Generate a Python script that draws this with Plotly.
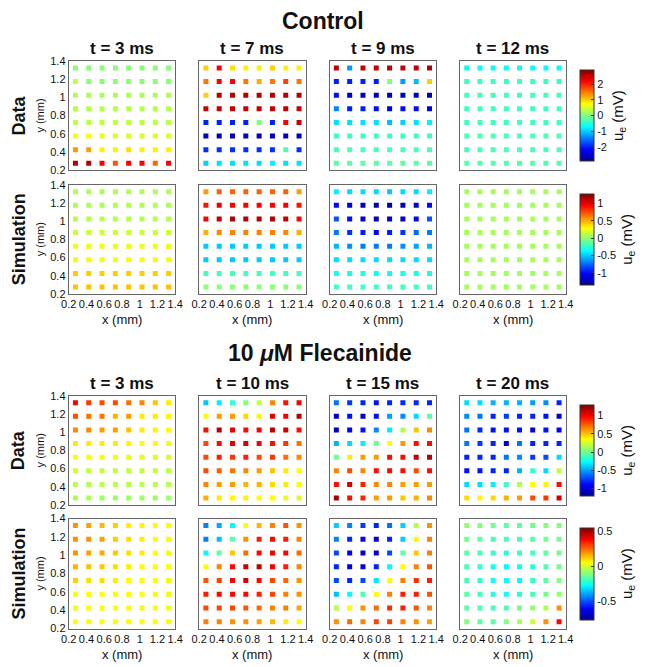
import plotly.graph_objects as go

# electrode grid (mm), 8 x 8, rows listed top -> bottom
electrode_x = [0.275, 0.425, 0.575, 0.725, 0.875, 1.025, 1.175, 1.325]
electrode_y = [1.325, 1.175, 1.025, 0.875, 0.725, 0.575, 0.425, 0.275]

ctrl_times = ["t = 3 ms", "t = 7 ms", "t = 9 ms", "t = 12 ms"]
flec_times = ["t = 3 ms", "t = 10 ms", "t = 15 ms", "t = 20 ms"]
row_names = ["Data", "Simulation", "Data", "Simulation"]

# u_e (mV)
ctrl_data_3 = [
    [0.05] * 8,
    [0.35, 0.05, 0.05, 0.05, 0.05, 0.05, 0.05, 0.05],
    [0.25] * 8,
    [0.3] * 8,
    [0.35] * 8,
    [0.7, 0.7, 0.6, 0.5, 0.5, 0.5, 0.5, 0.5],
    [1.3, 1.3, 0.8, 0.8, 0.9, 0.8, 0.8, 0.8],
    [2.6, 2.6, 2.2, 1.7, 2.2, 2.2, 1.6, 2.2],
]
ctrl_data_7 = [
    [1.0, 2.2, 0.9, 0.8, 0.8, 1.0, 0.8, 0.8],
    [1.5, 2.2, 2.2, 1.5, 1.2, 1.5, 1.8, 1.5],
    [1.0, 2.6, 2.6, 2.6, 2.6, 2.6, 2.6, 2.6],
    [2.5] * 8,
    [-2.0, -2.0, -2.0, -2.0, 0.0, -2.0, 2.2, 2.5],
    [-2.6] * 8,
    [-1.9, -1.9, -1.9, -1.9, -1.9, -1.9, -0.3, -1.9],
    [-1.0, -0.9, -0.9, -0.9, -0.9, -0.8, -0.9, -0.9],
]
ctrl_data_9 = [
    [2.5, -1.3, 2.5, 2.5, 2.6, 2.5, 2.5, 2.6],
    [-2.0, -2.0, -2.0, -2.0, 0.0, -1.3, -1.1, 1.0],
    [-2.1, -2.6, -2.6, -2.6, -2.6, -2.6, -2.6, -2.6],
    [-1.4, -2.0, -2.0, -2.1, -2.4, -2.1, -2.1, -2.4],
    [-0.9, -0.9, -0.9, -0.9, -1.1, -1.0, -0.9, -0.8],
    [-0.4] * 8,
    [-0.3] * 8,
    [-0.2] * 8,
]
ctrl_data_12 = [
    [-0.7] * 8,
    [-0.4] * 8,
    [-0.35] * 8,
    [-0.35] * 8,
    [-0.35] * 8,
    [-0.3] * 8,
    [-0.3] * 8,
    [-0.25] * 8,
]
ctrl_sim_3 = [
    [0.08] * 8,
    [0.08] * 8,
    [0.1] * 8,
    [0.15] * 8,
    [0.25] * 8,
    [0.27] * 8,
    [0.42] * 8,
    [0.45] * 8,
]
ctrl_sim_7 = [
    [0.55, 0.7, 0.7, 0.7, 0.7, 0.7, 0.7, 0.55],
    [0.9, 1.0, 0.95, 0.95, 0.95, 0.95, 0.95, 0.9],
    [0.95, 1.1, 1.15, 1.15, 1.15, 1.15, 1.1, 0.95],
    [0.5, 0.6, 0.62, 0.62, 0.62, 0.62, 0.6, 0.5],
    [-0.5] * 8,
    [-0.5] * 8,
    [-0.2] * 8,
    [0.0] * 8,
]
ctrl_sim_9 = [
    [-0.4, -0.45, -0.45, -0.45, -0.5, -0.45, -0.45, -0.4],
    [-1.0, -1.15, -1.2, -1.25, -1.25, -1.2, -1.15, -1.0],
    [-0.8, -1.0, -1.15, -1.2, -1.2, -1.15, -1.0, -0.8],
    [-0.7, -0.9, -0.95, -1.05, -0.95, -0.9, -0.75, -0.7],
    [-0.55, -0.65, -0.7, -0.7, -0.7, -0.65, -0.6, -0.55],
    [-0.45] * 8,
    [-0.3, -0.3, -0.3, -0.35, -0.35, -0.3, -0.3, -0.3],
    [-0.2] * 8,
]
ctrl_sim_12 = [[0.06] * 8 for _ in range(8)]

flec_data_3 = [
    [1.0, 0.85, 0.8, 0.8, 0.7, 0.65, 0.5, 0.4],
    [0.8, 0.7, 0.7, 0.55, 0.6, 0.4, 0.4, 0.38],
    [0.65, 0.65, 0.6, 0.6, 0.5, 0.4, 0.38, 0.35],
    [0.4, 0.4, 0.4, 0.4, 0.38, 0.35, 0.35, 0.3],
    [0.35, 0.35, 0.35, 0.33, 0.3, 0.3, 0.28, 0.25],
    [0.25, 0.2, 0.2, 0.2, 0.2, 0.2, 0.2, 0.18],
    [0.18] * 8,
    [0.15, 0.15, 0.12, 0.12, 0.12, 0.12, 0.12, 0.12],
]
flec_data_10 = [
    [-0.4, -0.3, -0.15, 0.05, 0.2, 0.65, 0.95, 1.0],
    [0.35, 0.6, 0.6, 0.45, 0.38, 1.05, 1.0, 1.15],
    [0.95, 1.15, 1.05, 0.95, 1.0, 1.15, 1.1, 0.95],
    [0.8, 0.95, 1.05, 1.1, 1.0, 0.95, 0.85, 0.7],
    [0.8, 0.9, 0.85, 0.9, 0.8, 0.85, 0.7, 0.65],
    [0.8, 0.75, 0.7, 0.65, 0.6, 0.5, 0.4, 0.35],
    [0.65, 0.6, 0.6, 0.55, 0.55, 0.45, 0.4, 0.35],
    [0.55, 0.4, 0.38, 0.38, 0.35, 0.35, 0.3, 0.25],
]
flec_data_15 = [
    [-0.6, -0.75, -0.8, -0.85, -0.8, -0.8, -0.8, -0.8],
    [-1.05, -0.85, -1.05, -0.85, -0.5, -0.55, -0.35, -0.05],
    [-1.05, -0.9, -0.85, -0.55, -0.3, 0.15, 0.5, 0.65],
    [-0.45, -0.35, -0.3, 0.0, 0.35, 0.6, 0.95, 0.95],
    [0.0, 0.4, 0.6, 0.6, 0.95, 0.95, 1.15, 1.15],
    [0.65, 0.8, 0.65, 0.95, 0.95, 0.95, 0.8, 0.95],
    [0.95, 1.1, 0.9, 0.65, 0.65, 0.6, 0.6, 0.6],
    [1.2, 0.95, 0.9, 0.6, 0.6, 0.5, 0.55, 0.65],
]
flec_data_20 = [
    [-0.35, -0.35, -0.45, -0.45, -0.45, -0.5, -0.55, -0.8],
    [-0.55, -0.6, -0.8, -0.75, -0.8, -0.8, -0.85, -1.05],
    [-0.6, -0.8, -0.85, -0.85, -0.85, -1.0, -0.85, -0.9],
    [-0.6, -0.75, -0.8, -1.0, -0.6, -0.8, -0.8, -0.8],
    [-0.8, -0.8, -0.8, -0.6, -0.55, -0.75, -0.7, -0.35],
    [-0.85, -0.85, -0.8, -0.8, -0.45, -0.15, -0.35, 0.2],
    [-0.35, -0.35, -0.3, -0.1, 0.15, 0.35, 0.38, 0.95],
    [0.45, 0.38, 0.45, 0.55, 0.6, 0.8, 0.85, 1.1],
]
flec_sim_3 = [
    [0.2, 0.18, 0.15, 0.12, 0.08, 0.07, 0.06, 0.06],
    [0.2, 0.2, 0.18, 0.13, 0.1, 0.08, 0.06, 0.06],
    [0.2, 0.18, 0.17, 0.13, 0.1, 0.08, 0.06, 0.05],
    [0.16, 0.14, 0.13, 0.1, 0.08, 0.06, 0.05, 0.05],
    [0.12, 0.1, 0.1, 0.08, 0.06, 0.05, 0.05, 0.04],
    [0.06, 0.06, 0.06, 0.05, 0.05, 0.05, 0.04, 0.04],
    [0.05, 0.05, 0.05, 0.05, 0.05, 0.04, 0.04, 0.04],
    [0.05] * 8,
]
flec_sim_10 = [
    [-0.43, -0.38, -0.27, 0.06, 0.15, 0.22, 0.28, 0.2],
    [-0.43, -0.35, -0.15, 0.2, 0.35, 0.38, 0.35, 0.22],
    [-0.27, -0.15, 0.13, 0.25, 0.38, 0.4, 0.38, 0.25],
    [0.06, 0.22, 0.38, 0.45, 0.47, 0.4, 0.35, 0.22],
    [0.28, 0.3, 0.4, 0.45, 0.38, 0.3, 0.25, 0.2],
    [0.35, 0.38, 0.38, 0.38, 0.35, 0.3, 0.22, 0.2],
    [0.3, 0.3, 0.3, 0.28, 0.25, 0.22, 0.22, 0.18],
    [0.22, 0.22, 0.2, 0.2, 0.18, 0.15, 0.08, 0.06],
]
flec_sim_15 = [
    [-0.33, -0.43, -0.52, -0.55, -0.45, -0.33, -0.04, 0.2],
    [-0.43, -0.55, -0.6, -0.65, -0.55, -0.33, 0.06, 0.22],
    [-0.5, -0.6, -0.68, -0.65, -0.5, -0.15, 0.13, 0.22],
    [-0.55, -0.65, -0.65, -0.55, -0.27, 0.06, 0.22, 0.28],
    [-0.5, -0.55, -0.5, -0.3, 0.06, 0.22, 0.33, 0.35],
    [-0.35, -0.27, -0.17, 0.06, 0.22, 0.35, 0.35, 0.28],
    [-0.04, 0.06, 0.2, 0.25, 0.33, 0.35, 0.28, 0.22],
    [0.2, 0.25, 0.22, 0.3, 0.3, 0.22, 0.2, 0.18],
]
flec_sim_20 = [
    [-0.08, -0.1, -0.12, -0.15, -0.15, -0.12, -0.1, -0.1],
    [-0.12, -0.15, -0.17, -0.18, -0.18, -0.15, -0.12, -0.12],
    [-0.15, -0.18, -0.2, -0.22, -0.2, -0.18, -0.15, -0.12],
    [-0.17, -0.2, -0.25, -0.27, -0.25, -0.22, -0.17, -0.12],
    [-0.17, -0.2, -0.25, -0.27, -0.27, -0.2, -0.15, -0.1],
    [-0.15, -0.18, -0.22, -0.25, -0.22, -0.18, -0.12, -0.08],
    [-0.15, -0.17, -0.18, -0.17, -0.12, -0.08, -0.05, 0.2],
    [-0.1, -0.15, -0.15, -0.1, -0.05, 0.0, 0.2, 0.38],
]

# colour limits and colorbar ticks per row
row_clim = [(-2.9, 2.9), (-1.35, 1.28), (-1.2, 1.29), (-0.76, 0.55)]
row_ticks = [[-2, -1, 0, 1, 2], [-1, -0.5, 0, 0.5, 1], [-1, -0.5, 0, 0.5, 1], [-0.5, 0, 0.5]]
row_ticktext = [["-2", "-1", "0", "1", "2"], ["-1", "-0.5", "0", "0.5", "1"],
                ["-1", "-0.5", "0", "0.5", "1"], ["-0.5", "0", "0.5"]]

axis_ticks = [0.2, 0.4, 0.6, 0.8, 1.0, 1.2, 1.4]
axis_ticktext = ["0.2", "0.4", "0.6", "0.8", "1", "1.2", "1.4"]

rows = [
    [ctrl_data_3, ctrl_data_7, ctrl_data_9, ctrl_data_12],
    [ctrl_sim_3, ctrl_sim_7, ctrl_sim_9, ctrl_sim_12],
    [flec_data_3, flec_data_10, flec_data_15, flec_data_20],
    [flec_sim_3, flec_sim_10, flec_sim_15, flec_sim_20],
]

JET = [
    [0.0, "rgb(0,0,143)"], [0.125, "rgb(0,0,255)"], [0.375, "rgb(0,255,255)"],
    [0.625, "rgb(255,255,0)"], [0.875, "rgb(255,0,0)"], [1.0, "rgb(128,0,0)"],
]

# the page body has an 8px margin; positions below are page pixels
OFF = 8
W, H = 647 - OFF, 667 - OFF
FONT = "Liberation Sans, Arial, Helvetica, sans-serif"
INK = "#111"
col_px = [(63, 174), (199, 310), (335, 446), (471, 581)]
row_px = [(56, 167), (182, 293), (397, 508), (522, 634)]


def px_x(p):
    return (p - OFF) / W


def px_y(p):
    return 1 - (p - OFF) / H


fig = go.Figure()
layout = {}
annotations = []


def note(text, xp, yp, size, angle=0, bold=False):
    annotations.append(dict(
        x=px_x(xp), y=px_y(yp), xref="paper", yref="paper",
        text=f"<b>{text}</b>" if bold else text, showarrow=False, textangle=angle,
        xanchor="center", yanchor="middle",
        font=dict(family=FONT, size=size, color=INK),
    ))


for r, panels in enumerate(rows):
    ca = "coloraxis" if r == 0 else f"coloraxis{r + 1}"
    lo, hi = row_clim[r]
    layout[ca] = dict(
        colorscale=JET, cmin=lo, cmax=hi,
        colorbar=dict(
            x=px_x(585), xanchor="left",
            y=px_y((row_px[r][0] + row_px[r][1]) / 2), yanchor="middle",
            lenmode="pixels", len=row_px[r][1] - row_px[r][0],
            thicknessmode="pixels", thickness=14,
            outlinecolor="#333", outlinewidth=1,
            tickvals=row_ticks[r], ticktext=row_ticktext[r],
            ticks="inside", ticklen=3, tickcolor="#333",
            tickfont=dict(family=FONT, size=11, color=INK),
            title=dict(text="u<sub>e</sub> (mV)", side="right",
                       font=dict(family=FONT, size=15, color=INK)),
        ),
    )
    for c, vals in enumerate(panels):
        k = r * 4 + c + 1
        xs, ys, zs = [], [], []
        for i, yv in enumerate(electrode_y):
            for j, xv in enumerate(electrode_x):
                xs.append(xv)
                ys.append(yv)
                zs.append(vals[i][j])
        fig.add_trace(go.Scatter(
            x=xs, y=ys, mode="markers",
            xaxis=f"x{k}", yaxis=f"y{k}",
            marker=dict(symbol="square", size=5, color=zs, coloraxis=ca, line=dict(width=0)),
            showlegend=False,
            hovertemplate="x %{x} mm<br>y %{y} mm<br>%{marker.color:.2f} mV<extra></extra>",
        ))
        xa = "xaxis" if k == 1 else f"xaxis{k}"
        ya = "yaxis" if k == 1 else f"yaxis{k}"
        layout[xa] = dict(
            domain=[px_x(col_px[c][0]), px_x(col_px[c][1])], anchor=f"y{k}",
            range=[0.2, 1.4], tickvals=axis_ticks, ticktext=axis_ticktext, tickangle=0,
            showticklabels=r in (1, 3), ticks="", showgrid=False, zeroline=False,
            showline=True, mirror=True, linecolor="#666", linewidth=1,
            tickfont=dict(family=FONT, size=11, color=INK),
        )
        layout[ya] = dict(
            domain=[px_y(row_px[r][1]), px_y(row_px[r][0])], anchor=f"x{k}",
            range=[0.2, 1.4], tickvals=axis_ticks, ticktext=axis_ticktext,
            showticklabels=c == 0, ticks="", showgrid=False, zeroline=False,
            showline=True, mirror=True, linecolor="#666", linewidth=1,
            tickfont=dict(family=FONT, size=11, color=INK),
        )
        if r in (1, 3):
            note("x (mm)", (col_px[c][0] + col_px[c][1]) / 2, row_px[r][1] + 26, 13)
    note("y (mm)", 33, (row_px[r][0] + row_px[r][1]) / 2, 11, angle=-90)
    note(row_names[r], 11, (row_px[r][0] + row_px[r][1]) / 2, 18, angle=-90, bold=True)

# panel titles
for r, times in ((0, ctrl_times), (2, flec_times)):
    for c, t in enumerate(times):
        note(t, (col_px[c][0] + col_px[c][1]) / 2, row_px[r][0] - 13, 17, bold=True)

# group titles
note("Control", 328, 15, 23, bold=True)
note("10 <i>μ</i>M Flecainide", 325, 353, 23, bold=True)

fig.update_layout(
    **layout,
    width=W, height=H,
    margin=dict(l=0, r=0, t=0, b=0),
    paper_bgcolor="white", plot_bgcolor="white",
    annotations=annotations,
)

fig.write_html("out.html")
